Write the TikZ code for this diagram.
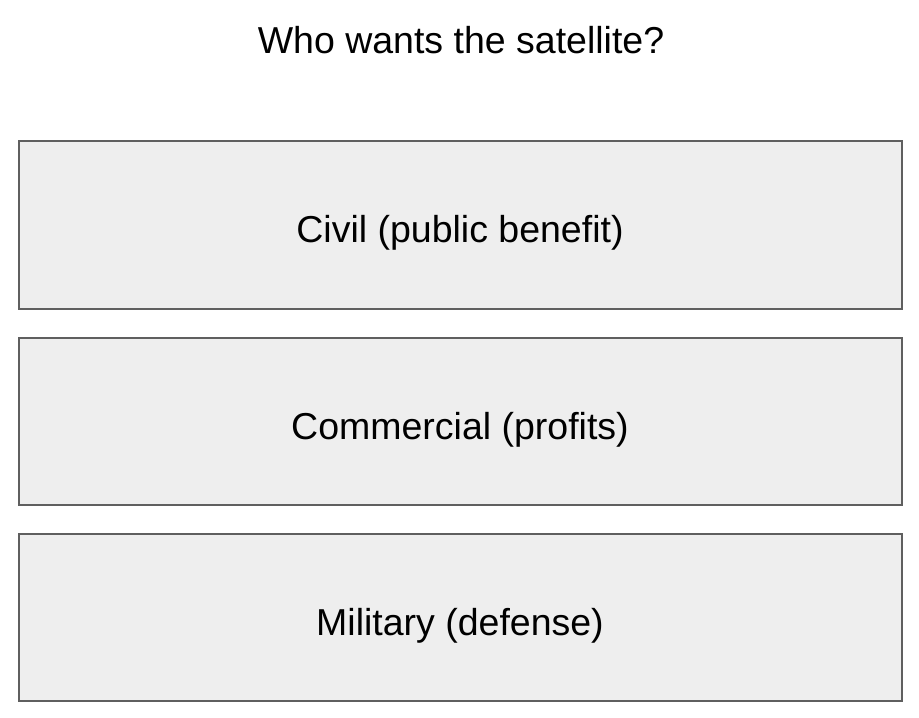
\documentclass[tikz,border=0pt]{standalone}
\usepackage{fontspec}
\setmainfont{Liberation Sans}
\definecolor{boxfill}{HTML}{EEEEEE}
\definecolor{boxline}{HTML}{5F5F5F}
\tikzset{
  bigtext/.style={font=\fontsize{37.5}{45}\selectfont, text=black, inner sep=0pt, anchor=base},
  panel/.style={draw=boxline, fill=boxfill, line width=2pt}
}
\begin{document}
\begin{tikzpicture}[x=1pt,y=-1pt]
\useasboundingbox (0,0) rectangle (919,718);
\fill[white] (0,0) rectangle (919,718);
\node[bigtext] (title) at (461,53) {Who wants the satellite?};
\draw[panel] (19,141) rectangle (902,309);
\node[bigtext] (civil) at (460,242) {Civil (public benefit)};
\draw[panel] (19,338) rectangle (902,505);
\node[bigtext] (commercial) at (460,439) {Commercial (profits)};
\draw[panel] (19,534) rectangle (902,701);
\node[bigtext] (military) at (460,635) {Military (defense)};
\end{tikzpicture}
\end{document}
